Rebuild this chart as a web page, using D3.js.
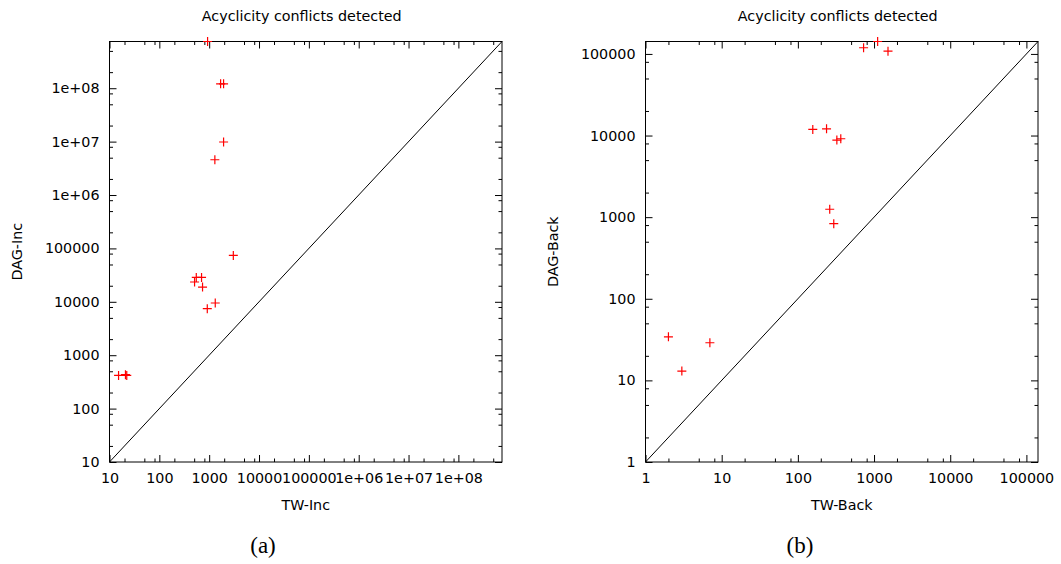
<!DOCTYPE html>
<html>
<head>
<meta charset="utf-8">
<script src="https://cdn.jsdelivr.net/npm/d3@7"></script>
<style>
  body { margin: 0; background: #fff; }
  svg { display: block; }
  .tick text { font-family: "DejaVu Sans", sans-serif; font-size: 14.3px; fill: #000; }
  .lbl { font-family: "DejaVu Sans", sans-serif; font-size: 14.3px; fill: #000; }
  .cap { font-family: "Liberation Serif", serif; font-size: 23px; fill: #000; }
</style>
</head>
<body>
<div id="chart"></div>
<script>
  // (a) TW-Inc vs DAG-Inc
  var incTw  = [929, 1695, 1945, 1945, 1300, 3050, 551, 703, 509, 736, 1324, 916, 15.2, 20.9, 22.2];
  var incDag = [7.5e8, 1.21e8, 1.21e8, 9.84e6, 4.58e6, 74000, 28600, 28600, 23500, 18900, 9500, 7430, 419, 431, 419];
  var incTicks = [10, 100, 1000, 10000, 100000, 1e6, 1e7, 1e8];
  var incTickLabels = ['10', '100', '1000', '10000', '100000', '1e+06', '1e+07', '1e+08'];

  // (b) TW-Back vs DAG-Back
  var backTw  = [157, 238, 325, 366, 729, 1115, 1525, 262, 296, 2, 7, 3];
  var backDag = [11900, 12100, 8810, 9140, 119000, 142000, 108000, 1250, 832, 34.2, 28.9, 13];
  var backTicks = [1, 10, 100, 1000, 10000, 100000];
  var backTickLabels = ['1', '10', '100', '1000', '10000', '100000'];

  var titles = ['Acyclicity conflicts detected', 'Acyclicity conflicts detected'];
  var xNames = ['TW-Inc', 'TW-Back'];
  var yNames = ['DAG-Inc', 'DAG-Back'];
  var captions = ['(a)', '(b)'];

  var W = 1061, H = 564;
  var svg = d3.select('#chart').append('svg')
    .attr('width', W).attr('height', H);

  function minorTicks(lo, hi) {
    var out = [];
    for (var e = Math.floor(Math.log10(lo)); e <= Math.ceil(Math.log10(hi)); e++) {
      [2, 5, 8].forEach(function(m) {
        var v = m * Math.pow(10, e);
        if (v > lo && v < hi) out.push(v);
      });
    }
    return out;
  }

  function panel(opt) {
    var g = svg.append('g');
    var x = d3.scaleLog().domain(opt.domain).range([opt.left, opt.right]);
    var y = d3.scaleLog().domain(opt.domain).range([opt.bottom, opt.top]);
    var minors = minorTicks(opt.domain[0], opt.domain[1]);
    var labelOf = function(d) { return opt.labels[opt.ticks.indexOf(d)]; };

    // frame
    g.append('rect')
      .attr('x', opt.left).attr('y', opt.top)
      .attr('width', opt.right - opt.left).attr('height', opt.bottom - opt.top)
      .attr('fill', 'none').attr('stroke', '#000').attr('stroke-width', 1);

    function axis(gen, tr, vals, size, labels) {
      var a = gen.tickValues(vals).tickSizeInner(size).tickSizeOuter(0).tickPadding(10);
      a.tickFormat(labels ? labelOf : function() { return ''; });
      var ag = g.append('g').attr('transform', tr).call(a);
      ag.select('.domain').remove();
      ag.selectAll('.tick line').attr('stroke', '#000');
      return ag;
    }
    // bottom / left with labels, top / right mirrored
    axis(d3.axisBottom(x), 'translate(0,' + opt.bottom + ')', opt.ticks, -7, true)
      .selectAll('.tick text').attr('dy', '0.78em');
    axis(d3.axisBottom(x), 'translate(0,' + opt.bottom + ')', minors, -3.5, false);
    axis(d3.axisTop(x), 'translate(0,' + opt.top + ')', opt.ticks, -7, false);
    axis(d3.axisTop(x), 'translate(0,' + opt.top + ')', minors, -3.5, false);
    axis(d3.axisLeft(y), 'translate(' + opt.left + ',0)', opt.ticks, -7, true)
      .selectAll('.tick text').attr('x', -10);
    axis(d3.axisLeft(y), 'translate(' + opt.left + ',0)', minors, -3.5, false);
    axis(d3.axisRight(y), 'translate(' + opt.right + ',0)', opt.ticks, -7, false);
    axis(d3.axisRight(y), 'translate(' + opt.right + ',0)', minors, -3.5, false);

    // diagonal y = x
    g.append('line')
      .attr('x1', x(opt.domain[0])).attr('y1', y(opt.domain[0]))
      .attr('x2', x(opt.domain[1])).attr('y2', y(opt.domain[1]))
      .attr('stroke', '#000').attr('stroke-width', 1);

    // points
    var pts = opt.xs.map(function(v, i) { return [v, opt.ys[i]]; });
    var s = 4.5;
    g.append('g').selectAll('path').data(pts).enter().append('path')
      .attr('d', function(d) {
        var px = x(d[0]), py = y(d[1]);
        return 'M' + (px - s) + ',' + py + 'H' + (px + s) + 'M' + px + ',' + (py - s) + 'V' + (py + s);
      })
      .attr('stroke', '#ff0000').attr('stroke-width', 1.2).attr('fill', 'none');

    var cx = (opt.left + opt.right) / 2, cy = (opt.top + opt.bottom) / 2;
    g.append('text').attr('class', 'lbl').attr('x', cx - 4).attr('y', 21)
      .attr('text-anchor', 'middle').text(opt.title);
    g.append('text').attr('class', 'lbl').attr('x', cx).attr('y', 510)
      .attr('text-anchor', 'middle').text(opt.xName);
    g.append('text').attr('class', 'lbl')
      .attr('transform', 'translate(' + opt.yLabelX + ',' + cy + ') rotate(-90)')
      .attr('text-anchor', 'middle').text(opt.yName);
    g.append('text').attr('class', 'cap').attr('x', opt.capX).attr('y', 553)
      .attr('text-anchor', 'middle').text(opt.caption);
  }

  panel({
    xs: incTw, ys: incDag, ticks: incTicks, labels: incTickLabels,
    domain: [10, 7.5e8], left: 109.5, right: 502, top: 41.5, bottom: 462,
    title: titles[0], xName: xNames[0], yName: yNames[0], caption: captions[0],
    yLabelX: 22, capX: 263
  });
  panel({
    xs: backTw, ys: backDag, ticks: backTicks, labels: backTickLabels,
    domain: [1, 142000], left: 645.5, right: 1038, top: 41.5, bottom: 462,
    title: titles[1], xName: xNames[1], yName: yNames[1], caption: captions[1],
    yLabelX: 558, capX: 800
  });
</script>
</body>
</html>
